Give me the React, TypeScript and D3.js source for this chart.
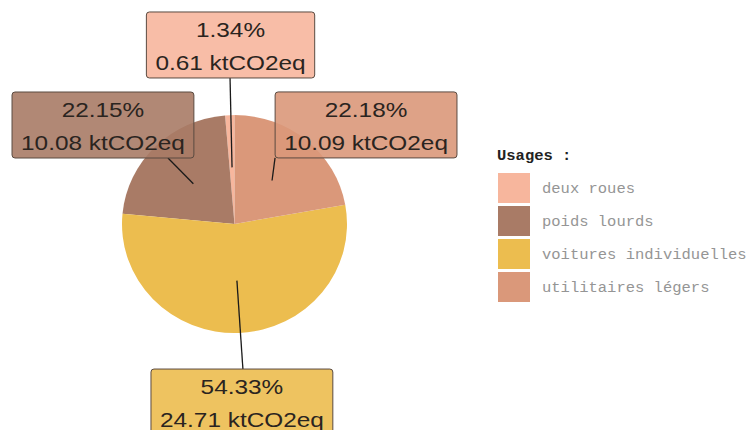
import React from "react";
import * as d3 from "d3";

const categories = ["deux roues", "poids lourds", "voitures individuelles", "utilitaires légers"];
const percents = [1.34, 22.15, 54.33, 22.18];
const emissions = [0.61, 10.08, 24.71, 10.09];
const colors = ["#F7B69D", "#A97B66", "#ECBD4F", "#DA987A"];
const legendTitle = "Usages :";
const unit = "ktCO2eq";

// label layout (repel result): box centre and leader end, relative to the slice anchor
const labelBox = [
  { dx: -1.5, dy: -122.4, ex: -2, ey: -89.4 },
  { dx: -90.4, dy: -58.7, ex: -25.4, ey: -25.7 },
  { dx: 5, dy: 121.4, ex: 6, ey: 88.4 },
  { dx: 94, dy: -55.6, ex: 3, ey: -22.6 },
];

const W = 752, H = 430;
const cx = 234.5, cy = 224, R = 110;
const sx = 112.5 / R, sy = 109 / R;
const labelFont = 21, labelStretch = 1.16;

function measure(text: string, font: string): number {
  const c = document.createElement("canvas").getContext("2d");
  if (!c) return text.length * 11;
  c.font = font;
  return c.measureText(text).width;
}

export default function App() {
  const data = categories.map((c, i) => ({ c, i, p: percents[i], e: emissions[i] }));
  const pie = d3.pie<any>().value((d) => d.p).sort((a, b) => b.i - a.i);
  const arcs = pie(data);
  const arc = d3.arc<any>().innerRadius(0).outerRadius(R);
  const rA = R * 0.52;

  return (
    <svg width={W} height={H} style={{ position: "absolute", left: 0, top: 0, background: "#fff" }}>
      <g transform={`translate(${cx},${cy}) scale(${sx},${sy})`}>
        {arcs.map((a) => (
          <path key={a.data.c} d={arc(a) as string} fill={colors[a.data.i]} />
        ))}
      </g>
      {arcs.map((a) => {
        const i = a.data.i;
        const m = (a.startAngle + a.endAngle) / 2;
        const ax = cx + Math.sin(m) * rA * sx;
        const ay = cy - Math.cos(m) * rA * sy;
        const L = labelBox[i];
        const bx = ax + L.dx, by = ay + L.dy;
        const t1 = `${d3.format(".2f")(a.data.p)}%`;
        const t2 = `${d3.format(".2f")(a.data.e)} ${unit}`;
        const font = `${labelFont}px "Liberation Sans", Arial, sans-serif`;
        const tw = Math.max(measure(t1, font), measure(t2, font)) * labelStretch;
        const bw = tw + 18, bh = 66;
        return (
          <g key={a.data.c}>
            <line x1={ax} y1={ay} x2={ax + L.ex} y2={ay + L.ey} stroke="#1a1a1a" strokeWidth={1.3} />
            <rect x={bx - bw / 2} y={by - bh / 2} width={bw} height={bh} rx={3}
              fill={colors[i]} fillOpacity={0.9} stroke="#5a4a40" strokeWidth={1} />
            <text transform={`translate(${bx},${by - 8}) scale(${labelStretch},1)`} textAnchor="middle"
              fontFamily='"Liberation Sans", Arial, sans-serif' fontSize={labelFont} fill="#2a2420">{t1}</text>
            <text transform={`translate(${bx},${by + 25}) scale(${labelStretch},1)`} textAnchor="middle"
              fontFamily='"Liberation Sans", Arial, sans-serif' fontSize={labelFont} fill="#2a2420">{t2}</text>
          </g>
        );
      })}
      <g>
        <text x={497} y={160} fontFamily='"Liberation Mono", "Courier New", monospace' fontWeight="bold"
          fontSize={15.5} fill="#222">{legendTitle}</text>
        {categories.map((c, i) => (
          <g key={c} transform={`translate(498,${173 + i * 33})`}>
            <rect width={32} height={30} fill={colors[i]} />
            <text x={44} y={20} fontFamily='"Liberation Mono", "Courier New", monospace' fontSize={15.5}
              fill="#959595">{c}</text>
          </g>
        ))}
      </g>
    </svg>
  );
}
